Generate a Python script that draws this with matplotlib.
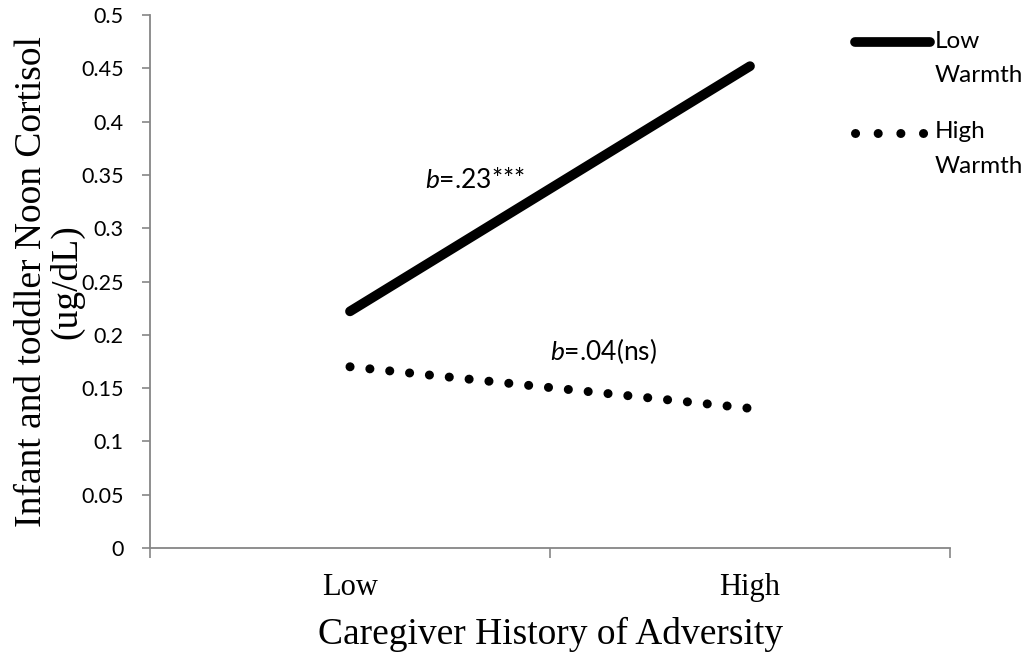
import matplotlib
matplotlib.use("Agg")
import matplotlib.pyplot as plt
from matplotlib.lines import Line2D

# data
categories = ["Low", "High"]
cat_pos = [0.5, 1.5]
low_warmth = [0.222, 0.452]
high_warmth = [0.170, 0.131]
y_ticks = [0, 0.05, 0.1, 0.15, 0.2, 0.25, 0.3, 0.35, 0.4, 0.45, 0.5]
y_tick_labels = ["0", "0.05", "0.1", "0.15", "0.2", "0.25", "0.3", "0.35", "0.4", "0.45", "0.5"]

GREY = "#868686"
SANS = "Lato"
SERIF = "Liberation Serif"

plt.rcParams["mathtext.fontset"] = "custom"
plt.rcParams["mathtext.it"] = "Lato:italic"
plt.rcParams["mathtext.rm"] = "Lato"

fig = plt.figure(figsize=(10.29, 6.55), dpi=100)
ax = fig.add_axes([150 / 1029, 1 - 548 / 655, 800 / 1029, 533 / 655])

DOTS = (0, (0.01, 2.2))
ax.plot(cat_pos, low_warmth, color="black", lw=7, solid_capstyle="round")
ax.plot(cat_pos, high_warmth, color="black", lw=6.5, linestyle=DOTS, dash_capstyle="round")

ax.set_xlim(0, 2)
ax.set_ylim(0, 0.5)

for s in ["top", "right"]:
    ax.spines[s].set_visible(False)
for s in ["left", "bottom"]:
    ax.spines[s].set_color(GREY)
    ax.spines[s].set_linewidth(1.3)

ax.set_yticks(y_ticks)
ax.set_yticklabels(y_tick_labels, fontsize=15.5, family=SANS)
ax.tick_params(axis="y", direction="out", length=6, color=GREY, width=1.2, pad=13)

ax.set_xticks([0, 1, 2])
ax.set_xticklabels(["", "", ""])
ax.tick_params(axis="x", which="major", direction="out", length=7, color=GREY, width=1.2)
ax.set_xticks(cat_pos, minor=True)
ax.set_xticklabels(categories, minor=True, fontsize=22, family=SERIF)
ax.tick_params(axis="x", which="minor", length=0, pad=18)

ax.set_xlabel("Caregiver History of Adversity", fontsize=27, family=SERIF, labelpad=11)
ax.set_ylabel("Infant and toddler Noon Cortisol\n(ug/dL)", fontsize=27, family=SERIF,
              linespacing=1.0)
ax.yaxis.set_label_coords(-0.082, 0.5)

ax.text(0.6875, 0.338, "$b$=.23***", fontsize=19, family=SANS, va="baseline", ha="left")
ax.text(1.0, 0.176, "$b$=.04(ns)", fontsize=19, family=SANS, va="baseline", ha="left")

# legend drawn by hand to keep the handle on the first text line
ax.add_line(Line2D([0.881, 0.975], [0.949, 0.949], transform=ax.transAxes,
                   color="black", lw=7, solid_capstyle="round", clip_on=False))
ax.text(0.981, 0.938, "Low", transform=ax.transAxes, fontsize=17.5, family=SANS, va="baseline")
ax.text(0.981, 0.874, "Warmth", transform=ax.transAxes, fontsize=17.5, family=SANS, va="baseline")
ax.add_line(Line2D([0.881, 0.970], [0.779, 0.779], transform=ax.transAxes,
                   color="black", lw=6.5, linestyle=(0, (0.01, 2.5)), dash_capstyle="round",
                   clip_on=False))
ax.text(0.981, 0.769, "High", transform=ax.transAxes, fontsize=17.5, family=SANS, va="baseline")
ax.text(0.981, 0.7036, "Warmth", transform=ax.transAxes, fontsize=17.5, family=SANS, va="baseline")

fig.savefig("out.png", dpi=100)
